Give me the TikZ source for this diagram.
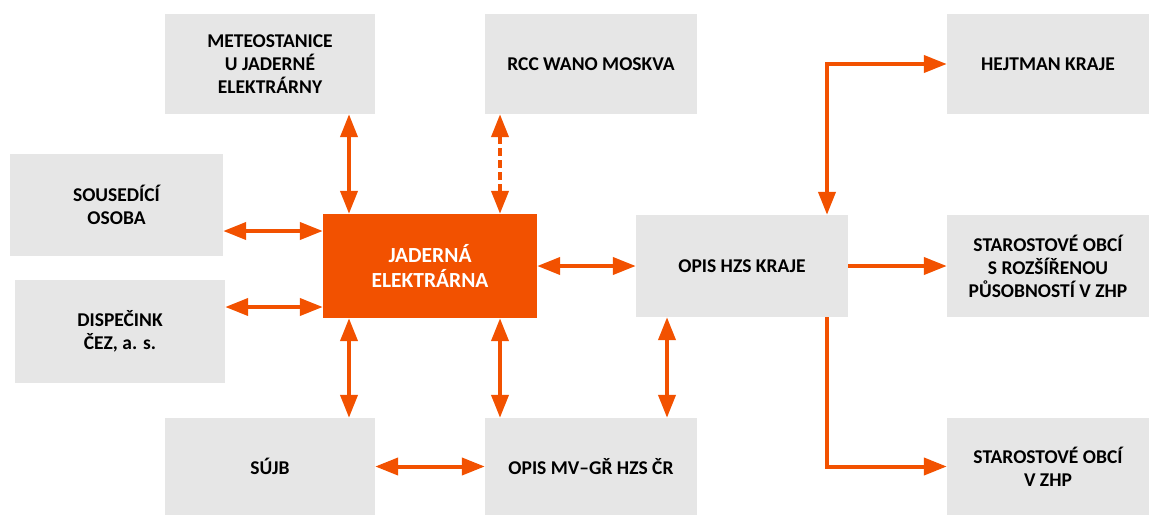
\documentclass[tikz,border=0pt]{standalone}
\usepackage{fontspec}
\setmainfont{Carlito}
\usetikzlibrary{arrows.meta}
\definecolor{org}{HTML}{F25100}
\definecolor{gbox}{HTML}{E6E6E6}
\begin{document}
\begin{tikzpicture}[x=1pt,y=-1pt,
  box/.style={fill=gbox, draw=none, align=center, inner sep=0pt,
    font=\bfseries\fontsize{19.5}{23}\selectfont, text=black},
  mainbox/.style={box, fill=org, text=white, font=\bfseries\fontsize{21.5}{25}\selectfont},
  link/.style={draw=org, line width=4pt},
  bi/.style={link, {Triangle[length=23pt,width=17pt]}-{Triangle[length=23pt,width=17pt]}},
  uni/.style={link, -{Triangle[length=23pt,width=17pt]}},
  dashlink/.style={dash pattern=on 8pt off 4pt}]
\useasboundingbox (0,0) rectangle (1149,515);
% boxes
\node[box, minimum width=210pt, minimum height=100pt] (meteo) at (270,64) {METEOSTANICE\\U JADERNÉ\\ELEKTRÁRNY};
\node[box, minimum width=212pt, minimum height=100pt] (rcc) at (591,64) {RCC WANO MOSKVA};
\node[box, minimum width=202pt, minimum height=100pt] (hejtman) at (1048,64) {HEJTMAN KRAJE};
\node[box, minimum width=213pt, minimum height=102pt] (sous) at (116.5,205) {SOUSEDÍCÍ\\OSOBA};
\node[box, minimum width=210pt, minimum height=103pt] (disp) at (120,331.5) {DISPEČINK\\ČEZ, a. s.};
\node[mainbox, minimum width=214pt, minimum height=104pt] (je) at (430,266) {JADERNÁ\\ELEKTRÁRNA};
\node[box, minimum width=212pt, minimum height=102pt] (opishzs) at (742,266) {OPIS HZS KRAJE};
\node[box, minimum width=202pt, minimum height=102pt] (staorp) at (1048,266) {STAROSTOVÉ OBCÍ\\S ROZŠÍŘENOU\\PŮSOBNOSTÍ V ZHP};
\node[box, minimum width=210pt, minimum height=97pt] (sujb) at (270,466.5) {SÚJB};
\node[box, minimum width=212pt, minimum height=97pt] (opismv) at (591,466.5) {OPIS MV–GŘ HZS ČR};
\node[box, minimum width=202pt, minimum height=97pt] (stazhp) at (1048,466.5) {STAROSTOVÉ OBCÍ\\V ZHP};
% guide coordinates
\coordinate (xa) at (349,0);
\coordinate (xb) at (500,0);
\coordinate (xc) at (667,0);
\coordinate (xd) at (827,0);
\coordinate (ya) at (0,231);
\coordinate (yb) at (0,307);
% connectors
\draw[bi] (xa |- meteo.south) -- (xa |- je.north);
\draw[bi, dashlink] (xb |- rcc.south) -- (xb |- je.north);
\draw[bi] (sous.east |- ya) -- (je.west |- ya);
\draw[bi] (disp.east |- yb) -- (je.west |- yb);
\draw[bi] (je.east) -- (opishzs.west);
\draw[bi] (xa |- je.south) -- (xa |- sujb.north);
\draw[bi] (xb |- je.south) -- (xb |- opismv.north);
\draw[bi] (sujb.east) -- (opismv.west);
\draw[bi] (xc |- opishzs.south) -- (xc |- opismv.north);
\draw[uni] (opishzs.east) -- (staorp.west);
\draw[bi] (xd |- opishzs.north) |- (hejtman.west);
\draw[uni] (xd |- opishzs.south) |- (stazhp.west);
\end{tikzpicture}
\end{document}
